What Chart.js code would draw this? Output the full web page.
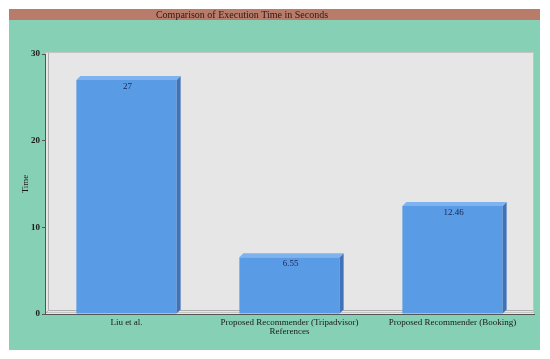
<!DOCTYPE html>
<html>
<head>
<meta charset="utf-8">
<script src="https://cdn.jsdelivr.net/npm/chart.js@4.4.1/dist/chart.umd.min.js"></script>
<style>
html,body{margin:0;padding:0;background:#fff;}
#wrap{width:550px;height:359px;position:relative;}
</style>
</head>
<body>
<div id="wrap"><canvas id="c" width="550" height="359"></canvas></div>
<script>
const categories = ["Liu et al.", "Proposed Recommender (Tripadvisor)", "Proposed Recommender (Booking)"];
const timeValues = [27, 6.55, 12.46];
const valueLabels = ["27", "6.55", "12.46"];
const yTicks = [0, 10, 20, 30];
const chartTitle = "Comparison of Execution Time in Seconds";
const xTitle = "References";
const yTitle = "Time";

const SERIF = "'Liberation Serif', 'Times New Roman', serif";

const framePlugin = {
  id: 'frame',
  beforeDraw(chart) {
    const ctx = chart.ctx;
    const a = chart.chartArea;
    ctx.save();
    ctx.fillStyle = '#ffffff';
    ctx.fillRect(0, 0, chart.width, chart.height);
    // green panel
    ctx.fillStyle = '#86d0b6';
    ctx.fillRect(9, 9, 531, 341);
    // title bar
    ctx.fillStyle = '#b97b6a';
    ctx.fillRect(9, 9, 531, 11);
    ctx.fillStyle = '#2a1a14';
    ctx.font = '10px ' + SERIF;
    ctx.textAlign = 'center';
    ctx.textBaseline = 'middle';
    ctx.fillText(chartTitle, 242, 15);
    // plot wall
    ctx.fillStyle = '#e6e6e6';
    ctx.fillRect(a.left, a.top - 2, a.right - a.left, a.bottom - a.top + 2);
    ctx.strokeStyle = '#c4c4c4';
    ctx.lineWidth = 1;
    ctx.strokeRect(a.left + 0.5, a.top - 1.5, a.right - a.left - 1, a.bottom - a.top);
    ctx.strokeStyle = '#b0b0b0';
    ctx.beginPath();
    ctx.moveTo(a.left + 3.5, a.top - 1);
    ctx.lineTo(a.left + 3.5, a.bottom - 3.5);
    ctx.lineTo(a.right - 1, a.bottom - 3.5);
    ctx.moveTo(a.left, a.bottom);
    ctx.lineTo(a.left + 3.5, a.bottom - 3.5);
    ctx.stroke();
    ctx.restore();
  },
  afterDatasetsDraw(chart) {
    const ctx = chart.ctx;
    const meta = chart.getDatasetMeta(0);
    ctx.save();
    meta.data.forEach((bar, i) => {
      const w = bar.width;
      const l = bar.x - w / 2, r = bar.x + w / 2;
      const t = bar.y, b = bar.base;
      const d = 4;
      // right side
      ctx.fillStyle = '#3f72b8';
      ctx.beginPath();
      ctx.moveTo(r, t);
      ctx.lineTo(r + d, t - d);
      ctx.lineTo(r + d, b - d);
      ctx.lineTo(r, b);
      ctx.closePath();
      ctx.fill();
      // top face
      ctx.fillStyle = '#7fb3ef';
      ctx.beginPath();
      ctx.moveTo(l, t);
      ctx.lineTo(l + d, t - d);
      ctx.lineTo(r + d, t - d);
      ctx.lineTo(r, t);
      ctx.closePath();
      ctx.fill();
      // label
      ctx.fillStyle = '#1a2550';
      ctx.font = '9px ' + SERIF;
      ctx.textAlign = 'center';
      ctx.textBaseline = 'top';
      ctx.fillText(valueLabels[i], bar.x + 1, t + 2);
    });
    ctx.restore();
  }
};

new Chart(document.getElementById('c'), {
  type: 'bar',
  data: {
    labels: categories,
    datasets: [{
      data: timeValues,
      backgroundColor: '#5a9be6',
      borderWidth: 0,
      barPercentage: 0.82,
      categoryPercentage: 0.75
    }]
  },
  options: {
    responsive: false,
    animation: false,
    devicePixelRatio: 1,
    layout: { padding: { left: 9, right: 16, top: 54, bottom: 22 } },
    plugins: { legend: { display: false }, tooltip: { enabled: false }, title: { display: false } },
    scales: {
      x: {
        afterFit(s) { s.height = 23; },
        grid: { display: false, drawTicks: false },
        border: { display: true, color: '#555555', width: 1 },
        ticks: { color: '#1a1a1a', font: { family: SERIF, size: 9 }, padding: 3, maxRotation: 0, autoSkip: false },
        title: { display: true, text: xTitle, color: '#1a1a1a', font: { family: SERIF, size: 9 }, padding: { top: 0, bottom: 0 } }
      },
      y: {
        min: 0, max: 30,
        afterFit(s) { s.width = 36; },
        afterBuildTicks(s) { s.ticks = yTicks.map(v => ({ value: v })); },
        grid: { display: true, drawOnChartArea: false, drawTicks: true, tickLength: 3, color: '#555555' },
        border: { display: true, color: '#555555', width: 1 },
        ticks: { color: '#1a1a1a', font: { family: SERIF, size: 9, weight: 'bold' }, padding: 2 },
        title: { display: true, text: yTitle, color: '#1a1a1a', font: { family: SERIF, size: 9 }, padding: { top: 11, bottom: 0 } }
      }
    }
  },
  plugins: [framePlugin]
});
</script>
</body>
</html>
